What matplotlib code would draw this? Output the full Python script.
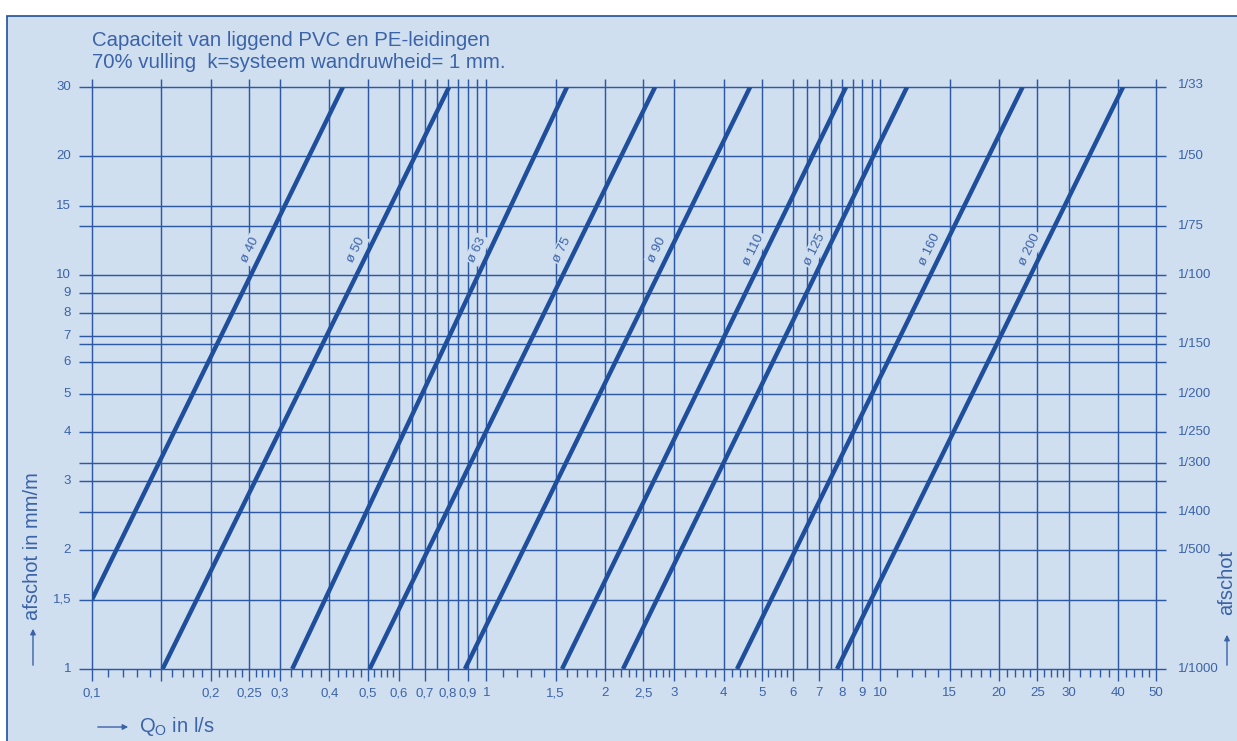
import math
import matplotlib
matplotlib.use('Agg')
import matplotlib.pyplot as plt
from matplotlib.patches import Rectangle

W, H, DPI = 1237, 741, 100
FONT = 'Liberation Sans'
plt.rcParams['font.family'] = [FONT, 'DejaVu Sans']

BG = '#d0dff0'
LINE = '#1f4f9c'
GRID = '#2d59a3'
TXT = '#3b63a8'

# ---- data: pipe capacity lines (Q in l/s at slope in mm/m) ----
pipe_labels = ['ø 40', 'ø 50', 'ø 63', 'ø 75', 'ø 90', 'ø 110', 'ø 125', 'ø 160', 'ø 200']
q_start = [0.100, 0.151, 0.322, 0.506, 0.883, 1.557, 2.223, 4.327, 7.759]
s_start = [1.5, 1, 1, 1, 1, 1, 1, 1, 1]
q_end = [0.433, 0.805, 1.603, 2.681, 4.671, 8.179, 11.68, 22.94, 41.25]
s_end = [30, 30, 30, 30, 30, 30, 30, 30, 30]

# ---- axes / grid definitions ----
x_grid = [0.1, 0.15, 0.2, 0.25, 0.3, 0.4, 0.5, 0.6, 0.65, 0.7, 0.75, 0.8, 0.85, 0.9, 0.95,
          1, 1.5, 2, 2.5, 3, 4, 5, 6, 6.5, 7, 7.5, 8, 8.5, 9, 9.5,
          10, 15, 20, 25, 30, 40, 50]
x_tick_vals = [0.1, 0.2, 0.25, 0.3, 0.4, 0.5, 0.6, 0.7, 0.8, 0.9, 1, 1.5, 2, 2.5, 3, 4, 5,
               6, 7, 8, 9, 10, 15, 20, 25, 30, 40, 50]
x_tick_labels = ['0,1', '0,2', '0,25', '0,3', '0,4', '0,5', '0,6', '0,7', '0,8', '0,9', '1',
                 '1,5', '2', '2,5', '3', '4', '5', '6', '7', '8', '9', '10', '15', '20',
                 '25', '30', '40', '50']
minor_base = [1.1, 1.2, 1.3, 1.4, 1.6, 1.7, 1.8, 1.9, 2.1, 2.2, 2.3, 2.4, 2.6, 2.7, 2.8, 2.9,
              3.2, 3.4, 3.6, 3.8, 4.2, 4.4, 4.6, 4.8, 5.2, 5.4, 5.6, 5.8]
decades = [0.1, 1, 10]

y_grid = [30, 20, 15, 1000 / 75, 10, 9, 8, 7, 1000 / 150, 6, 5, 4, 1000 / 300, 3, 2.5, 2, 1.5, 1]
y_left_vals = [30, 20, 15, 10, 9, 8, 7, 6, 5, 4, 3, 2, 1.5, 1]
y_left_labels = ['30', '20', '15', '10', '9', '8', '7', '6', '5', '4', '3', '2', '1,5', '1']
right_denoms = [33, 50, 75, 100, 150, 200, 250, 300, 400, 500, 1000]

fig = plt.figure(figsize=(W / DPI, H / DPI), dpi=DPI, facecolor='white')
fig.patches.append(Rectangle((7 / W, -0.05), 1.2, 1.05 - 16 / H, transform=fig.transFigure,
                             facecolor=BG, edgecolor=LINE, lw=1.2, zorder=-5))

ax = fig.add_axes([92 / W, 1 - 669 / H, 1064 / W, 582 / H])
ax.set_zorder(2)
ax.set_xscale('log')
ax.set_yscale('log')
ax.set_xlim(0.1, 50)
ax.set_ylim(1, 30)
ax.patch.set_alpha(0)
for s in ax.spines.values():
    s.set_visible(False)
ax.set_xticks([])
ax.set_yticks([])
ax.minorticks_off()

xt = ax.get_xaxis_transform()
yt = ax.get_yaxis_transform()

# grid
ax.vlines(x_grid, 0, 1 + 8 / 582, transform=xt, colors=GRID, lw=1.05, clip_on=False, zorder=1)
ax.hlines(y_grid, -13 / 1064, 1 + 10 / 1064, transform=yt, colors=GRID, lw=1.05,
          clip_on=False, zorder=1)
# ticks below x axis
ax.vlines(x_tick_vals + [0.15], -12 / 582, 0, transform=xt, colors=GRID, lw=1.0,
          clip_on=False, zorder=1)
minor = [b * d for d in decades for b in minor_base if b * d <= 50]
ax.vlines(minor, -8 / 582, 0, transform=xt, colors=GRID, lw=1.0, clip_on=False, zorder=1)

# tick labels
for v, lab in zip(x_tick_vals, x_tick_labels):
    ax.text(v, -24 / 582, lab, transform=xt, ha='center', va='center', fontsize=9.5, color=TXT)
for v, lab in zip(y_left_vals, y_left_labels):
    ax.text(-21 / 1064, v, lab, transform=yt, ha='right', va='center', fontsize=9.5, color=TXT)
for d in right_denoms:
    ax.text(1 + 22 / 1064, 1000 / d, '1/%d' % d, transform=yt, ha='left', va='center',
            fontsize=9.5, color=TXT)

# pipe lines and labels
y_lab = 11.6
for lab, qs, ss, qe, se in zip(pipe_labels, q_start, s_start, q_end, s_end):
    ax.plot([qs, qe], [ss, se], color=LINE, lw=3.2, solid_capstyle='butt', zorder=4)
    t = (math.log10(y_lab) - math.log10(ss)) / (math.log10(se) - math.log10(ss))
    xl = 10 ** (math.log10(qs) + t * (math.log10(qe) - math.log10(qs)))
    ax.annotate(lab, xy=(xl, y_lab), xytext=(-13, 0), textcoords='offset pixels',
                rotation=64, ha='center', va='center', fontsize=9.5, color=TXT,
                rotation_mode='anchor', zorder=3,
                bbox=dict(boxstyle='square,pad=0.15', fc=BG, ec='none'))

# titles
fig.text(92 / W, 1 - 40 / H, 'Capaciteit van liggend PVC en PE-leidingen', ha='left',
         va='center', fontsize=14.7, color=TXT)
fig.text(92 / W, 1 - 63 / H, '70% vulling  k=systeem wandruwheid= 1 mm.', ha='left',
         va='center', fontsize=14.7, color=TXT)

# axis titles
fig.text(33 / W, 1 - 546 / H, 'afschot in mm/m', rotation=90, ha='center', va='center',
         fontsize=14.5, color=TXT)
ax.annotate('', xy=(33, H - 626), xytext=(33, H - 668), xycoords='figure pixels',
            textcoords='figure pixels', annotation_clip=False,
            arrowprops=dict(arrowstyle='-|>', color=TXT, lw=1.0, mutation_scale=8))
fig.text(1227 / W, 1 - 582 / H, 'afschot', rotation=90, ha='center', va='center',
         fontsize=14.5, color=TXT)
ax.annotate('', xy=(1227, H - 632), xytext=(1227, H - 668), xycoords='figure pixels',
            textcoords='figure pixels', annotation_clip=False,
            arrowprops=dict(arrowstyle='-|>', color=TXT, lw=1.0, mutation_scale=8))

ax.annotate('', xy=(131, H - 727), xytext=(95, H - 727), xycoords='figure pixels',
            textcoords='figure pixels', annotation_clip=False,
            arrowprops=dict(arrowstyle='-|>', color=TXT, lw=1.0, mutation_scale=8))
fig.text(139 / W, 1 - 727 / H, r'Q$_\mathregular{O}$ in l/s', ha='left', va='center',
         fontsize=14.5, color=TXT)

fig.savefig('out.png', dpi=DPI, facecolor='white')
